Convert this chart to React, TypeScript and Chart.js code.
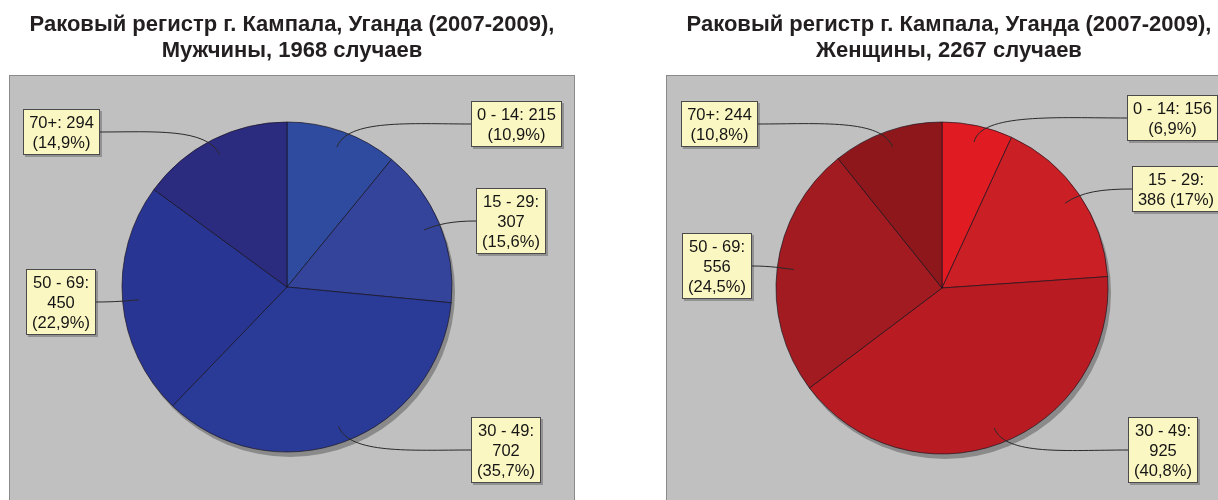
import React, { useEffect, useRef } from "react";
import { Chart, registerables } from "chart.js";

Chart.register(...registerables);

// ---------- data ----------
const ageGroups = ["0 - 14", "15 - 29", "30 - 49", "50 - 69", "70+"];
const maleCases = [215, 307, 702, 450, 294];
const femaleCases = [156, 386, 925, 556, 244];
const maleTitle = ["Раковый регистр г. Кампала, Уганда (2007-2009),", "Мужчины, 1968 случаев"];
const femaleTitle = ["Раковый регистр г. Кампала, Уганда (2007-2009),", "Женщины, 2267 случаев"];

// ---------- styles / layout ----------
const maleColors = ["#2e4b9f", "#34449b", "#2a3a97", "#293593", "#2b2c80"];
const femaleColors = ["#e11b22", "#cb1f26", "#b81c22", "#a11b20", "#8d171b"];

type Wrap = "two" | "three" | "twoB";
type BoxPos = { side: "left" | "right"; x: number; y: number; wrap: Wrap };

const maleBoxes: BoxPos[] = [
  { side: "right", x: 471, y: 101, wrap: "two" },
  { side: "right", x: 476, y: 188, wrap: "three" },
  { side: "right", x: 471, y: 417, wrap: "three" },
  { side: "left", x: 96, y: 269, wrap: "three" },
  { side: "left", x: 100, y: 109, wrap: "two" },
];
const femaleBoxes: BoxPos[] = [
  { side: "right", x: 518, y: 95, wrap: "two" },
  { side: "right", x: 523, y: 166, wrap: "twoB" },
  { side: "right", x: 519, y: 417, wrap: "three" },
  { side: "left", x: 143, y: 233, wrap: "three" },
  { side: "left", x: 149, y: 101, wrap: "two" },
];

const LABEL_FONT = '16.5px "Liberation Sans", Arial, sans-serif';
const TITLE_FONT = 'bold 22px "Liberation Sans", Arial, sans-serif';

function fmtPct(v: number, total: number) {
  let s = ((v / total) * 100).toFixed(1);
  if (s.endsWith(".0")) s = s.slice(0, -2);
  return s.replace(".", ",");
}

function labelLines(name: string, v: number, total: number, wrap: Wrap): string[] {
  const p = `(${fmtPct(v, total)}%)`;
  if (wrap === "two") return [`${name}: ${v}`, p];
  if (wrap === "twoB") return [`${name}:`, `${v} ${p}`];
  return [`${name}:`, `${v}`, p];
}

function makeDecor(cfg: {
  title: string[];
  titleX: number;
  panelX: number;
  boxes: BoxPos[];
  values: number[];
}) {
  return {
    id: "decor",
    beforeDraw(chart: any) {
      const ctx = chart.ctx as CanvasRenderingContext2D;
      ctx.save();
      ctx.fillStyle = "#c1c0c0";
      ctx.fillRect(cfg.panelX, 75, 565, 500);
      ctx.strokeStyle = "#8a8a8a";
      ctx.lineWidth = 1;
      ctx.strokeRect(cfg.panelX + 0.5, 75.5, 565, 500);
      ctx.fillStyle = "#231f20";
      ctx.font = TITLE_FONT;
      ctx.textAlign = "center";
      ctx.textBaseline = "alphabetic";
      cfg.title.forEach((t, i) => ctx.fillText(t, cfg.titleX, 31 + i * 26));
      ctx.restore();
    },
    beforeDatasetsDraw(chart: any) {
      const ctx = chart.ctx as CanvasRenderingContext2D;
      const el = chart.getDatasetMeta(0).data[0];
      const { x, y, outerRadius } = el.getProps(["x", "y", "outerRadius"], true);
      ctx.save();
      ctx.fillStyle = "#8a8a8a";
      ctx.beginPath();
      ctx.arc(x + 3, y + 5, outerRadius, 0, Math.PI * 2);
      ctx.fill();
      ctx.restore();
    },
    afterDatasetsDraw(chart: any) {
      const ctx = chart.ctx as CanvasRenderingContext2D;
      const meta = chart.getDatasetMeta(0);
      const total = cfg.values.reduce((a, b) => a + b, 0);
      ctx.save();
      ctx.font = LABEL_FONT;
      meta.data.forEach((el: any, i: number) => {
        const { x, y, startAngle, endAngle, outerRadius } = el.getProps(
          ["x", "y", "startAngle", "endAngle", "outerRadius"],
          true
        );
        const mid = (startAngle + endAngle) / 2;
        const ux = Math.cos(mid);
        const uy = Math.sin(mid);
        const ax = x + ux * outerRadius * 0.9;
        const ay = y + uy * outerRadius * 0.9;
        const b = cfg.boxes[i];
        const lines = labelLines(ageGroups[i], cfg.values[i], total, b.wrap);
        const tw = Math.max(...lines.map((l) => ctx.measureText(l).width));
        const w = Math.round(tw + 12);
        const h = lines.length * 20 + 6;
        const left = b.side === "right" ? b.x : b.x - w;
        const top = b.y;
        const px = b.x;
        const py = top + h / 2;
        const dx = Math.abs(px - ax);
        // leader line
        ctx.strokeStyle = "#2a2a2a";
        ctx.lineWidth = 1;
        ctx.beginPath();
        ctx.moveTo(px, py);
        const dir = ax > px ? 1 : -1;
        ctx.bezierCurveTo(
          px + dir * dx * 0.45,
          py,
          ax + ux * Math.min(30, dx * 0.3),
          ay + uy * Math.min(30, dx * 0.3),
          ax,
          ay
        );
        ctx.stroke();
        // box shadow
        ctx.fillStyle = "rgba(60,60,60,0.35)";
        ctx.fillRect(left + 2, top + 2, w, h);
        // box
        ctx.fillStyle = "#fbf7c2";
        ctx.fillRect(left, top, w, h);
        ctx.strokeStyle = "#4a4a4a";
        ctx.strokeRect(left + 0.5, top + 0.5, w - 1, h - 1);
        // text
        ctx.fillStyle = "#151515";
        ctx.textAlign = "center";
        ctx.textBaseline = "alphabetic";
        lines.forEach((l, j) => ctx.fillText(l, left + w / 2, top + 19 + j * 20));
      });
      ctx.restore();
    },
  };
}

function PieCanvas(props: {
  left: number;
  values: number[];
  colors: string[];
  title: string[];
  titleX: number;
  panelX: number;
  boxes: BoxPos[];
  radius: number;
  padding: { left: number; right: number; top: number; bottom: number };
}) {
  const ref = useRef<HTMLCanvasElement>(null);
  useEffect(() => {
    const canvas = ref.current!;
    const chart = new Chart(canvas, {
      type: "pie",
      data: {
        labels: ageGroups,
        datasets: [
          {
            data: props.values,
            backgroundColor: props.colors,
            borderColor: "rgba(25,20,30,0.85)",
            borderWidth: 0.8,
            radius: props.radius,
          } as any,
        ],
      },
      options: {
        responsive: false,
        animation: false,
        devicePixelRatio: 1,
        layout: { padding: props.padding },
        plugins: {
          legend: { display: false },
          tooltip: { enabled: false },
          title: { display: false },
        },
      },
      plugins: [
        makeDecor({
          title: props.title,
          titleX: props.titleX,
          panelX: props.panelX,
          boxes: props.boxes,
          values: props.values,
        }) as any,
      ],
    });
    return () => chart.destroy();
  }, []);
  return (
    <canvas
      ref={ref}
      width={609}
      height={500}
      style={{ position: "absolute", left: props.left, top: 0, width: 609, height: 500 }}
    />
  );
}

export default function App() {
  return (
    <div
      style={{
        position: "fixed",
        left: 0,
        top: 0,
        width: 1218,
        height: 500,
        background: "#ffffff",
        overflow: "hidden",
      }}
    >
      <PieCanvas
        left={0}
        values={maleCases}
        colors={maleColors}
        title={maleTitle}
        titleX={292}
        panelX={9}
        boxes={maleBoxes}
        radius={165}
        padding={{ left: 122, right: 157, top: 122, bottom: 48 }}
      />
      <PieCanvas
        left={609}
        values={femaleCases}
        colors={femaleColors}
        title={femaleTitle}
        titleX={340}
        panelX={57}
        boxes={femaleBoxes}
        radius={166}
        padding={{ left: 167, right: 110, top: 122, bottom: 46 }}
      />
    </div>
  );
}
